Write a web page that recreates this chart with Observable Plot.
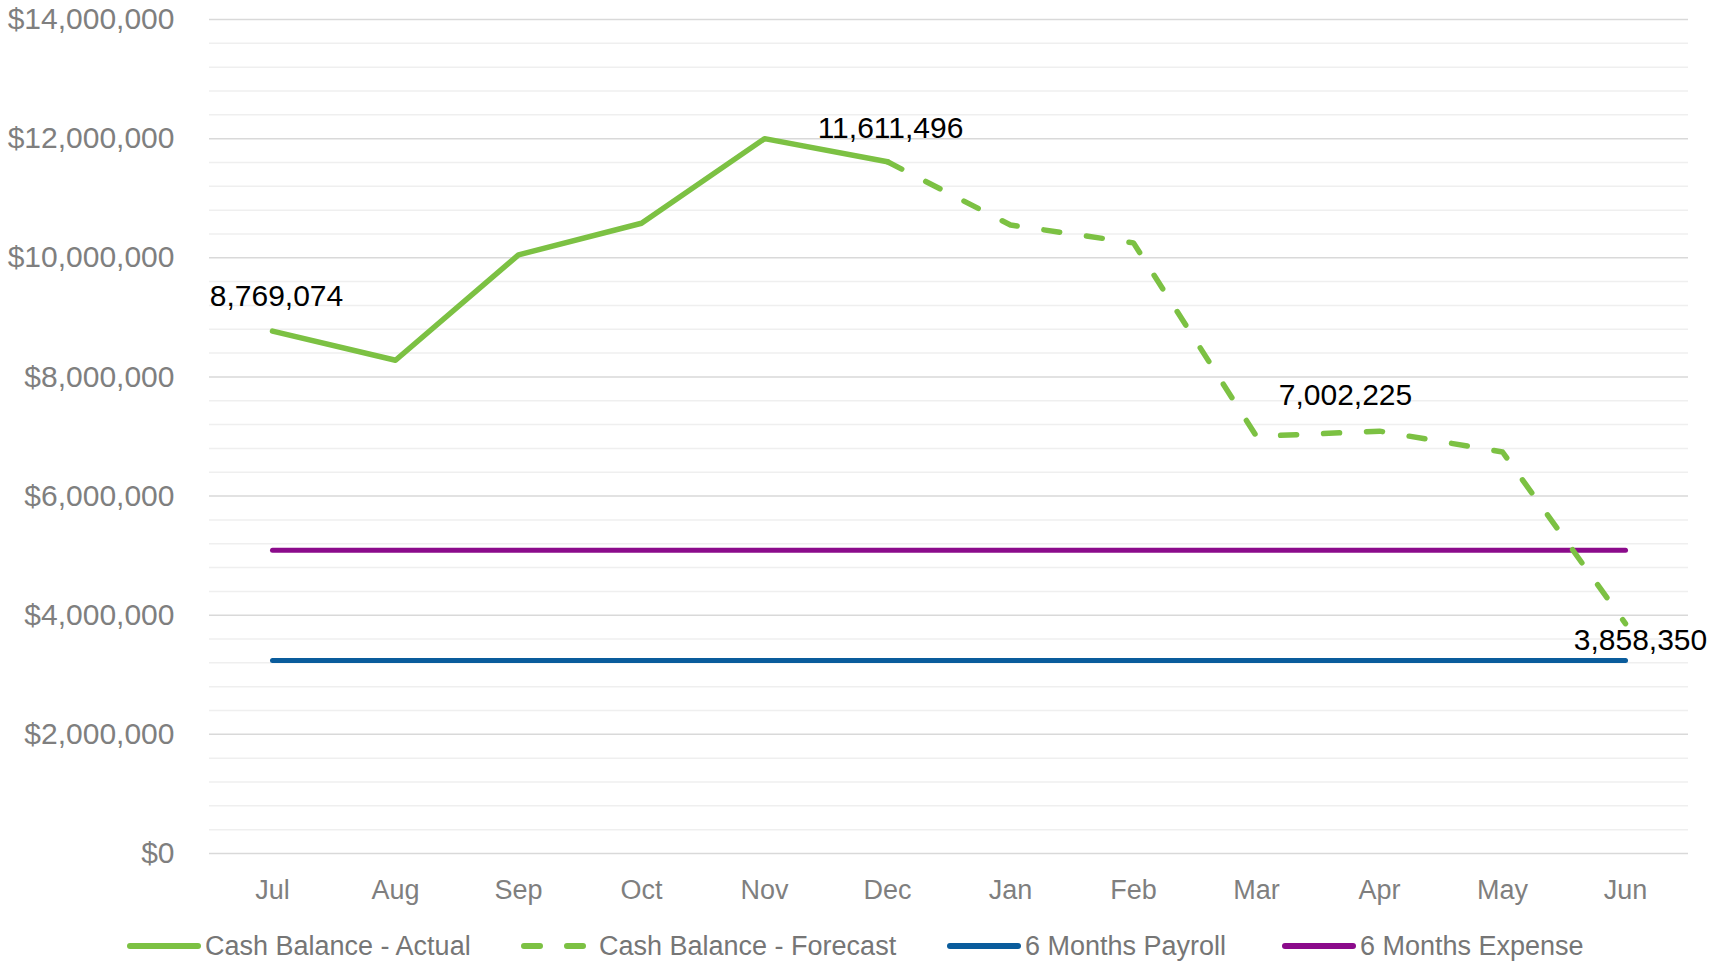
<!DOCTYPE html>
<html><head><meta charset="utf-8">
<script src="https://cdn.jsdelivr.net/npm/d3@7"></script>
<script src="https://cdn.jsdelivr.net/npm/@observablehq/plot@0.6"></script>
<style>
body{margin:0;background:#fff;font-family:"Liberation Sans",Arial,sans-serif;}
#wrap{position:relative;width:1730px;height:961px;overflow:hidden;}
.lg{position:absolute;top:928px;height:36px;display:flex;align-items:center;font-size:27px;color:#767676;white-space:nowrap;}
.lg svg{margin-right:4px;}
</style></head><body>
<div id="wrap"><div id="chart"></div><div id="legend"></div></div>
<script>
// ---- data ----
const months = ["Jul","Aug","Sep","Oct","Nov","Dec","Jan","Feb","Mar","Apr","May","Jun"];
const actualMonths = ["Jul","Aug","Sep","Oct","Nov","Dec"];
const actualValues = [8769074, 8280000, 10050000, 10580000, 12000000, 11611496];
const forecastMonths = ["Dec","Jan","Feb","Mar","Apr","May","Jun"];
const forecastValues = [11611496, 10550000, 10250000, 7002225, 7090000, 6740000, 3858350];
const payrollValue = 3240000;
const expenseValue = 5090000;
const yMajorTicks = [0, 2000000, 4000000, 6000000, 8000000, 10000000, 12000000, 14000000];
const yMinorTicks = [400000,800000,1200000,1600000,2400000,2800000,3200000,3600000,4400000,4800000,5200000,5600000,6400000,6800000,7200000,7600000,8400000,8800000,9200000,9600000,10400000,10800000,11200000,11600000,12400000,12800000,13200000,13600000];
const seriesNames = ["Cash Balance - Actual","Cash Balance - Forecast","6 Months Payroll","6 Months Expense"];
const labelPoints = [
  {m:"Jul", v:8769074},
  {m:"Dec", v:11611496},
  {m:"Mar", v:7002225},
  {m:"Jun", v:3858350}
];

const GREEN = "#7cc143", BLUE = "#0a5c9c", PURPLE = "#8b0b8b";
const actual = actualMonths.map((m,i)=>({m, v:actualValues[i]}));
const forecast = forecastMonths.map((m,i)=>({m, v:forecastValues[i]}));
const payroll = months.map(m=>({m, v:payrollValue}));
const expense = months.map(m=>({m, v:expenseValue}));
const fmt = d3.format(",");
const labelOffsets = [[4,-35],[3,-33],[89,-41],[15,17]];

const chart = Plot.plot({
  width: 1730,
  height: 900,
  marginLeft: 209,
  marginRight: 42,
  marginTop: 19,
  marginBottom: 47,
  style: {fontFamily: '"Liberation Sans", Arial, sans-serif', background: "#fff", overflow: "visible"},
  x: {type: "point", domain: months, padding: 0.5},
  y: {domain: [0, 14000000]},
  marks: [
    Plot.gridY(yMinorTicks, {stroke: "#efefef", strokeOpacity: 1, strokeWidth: 1.5}),
    Plot.gridY(yMajorTicks, {stroke: "#d9d9d9", strokeOpacity: 1, strokeWidth: 1.5}),
    Plot.axisY(yMajorTicks, {tickSize: 0, tickPadding: 35, fontSize: 30, fill: "#7f7f7f", tickFormat: d => "$" + fmt(d), label: null}),
    Plot.axisX({tickSize: 0, tickPadding: 26, fontSize: 27, fill: "#7f7f7f", label: null}),
    Plot.lineY(payroll, {x: "m", y: "v", stroke: BLUE, strokeWidth: 5, strokeLinecap: "round"}),
    Plot.lineY(expense, {x: "m", y: "v", stroke: PURPLE, strokeWidth: 5, strokeLinecap: "round"}),
    Plot.lineY(forecast, {x: "m", y: "v", stroke: GREEN, strokeWidth: 5.5, strokeLinecap: "round", strokeLinejoin: "round", strokeDasharray: "16,27"}),
    Plot.lineY(actual, {x: "m", y: "v", stroke: GREEN, strokeWidth: 5.5, strokeLinecap: "round", strokeLinejoin: "round"}),
    ...labelPoints.map((p,i) => Plot.text([p], {x: "m", y: "v", text: d => fmt(d.v), dx: labelOffsets[i][0], dy: labelOffsets[i][1], fontSize: 30, fill: "#000"}))
  ]
});
document.getElementById("chart").appendChild(chart);

// ---- legend ----
const legendItems = [
  {name: seriesNames[0], color: GREEN, dash: null, left: 127},
  {name: seriesNames[1], color: GREEN, dash: "16,27", left: 521},
  {name: seriesNames[2], color: BLUE, dash: null, left: 947},
  {name: seriesNames[3], color: PURPLE, dash: null, left: 1282}
];
const lg = document.getElementById("legend");
legendItems.forEach(it => {
  const div = document.createElement("div");
  div.className = "lg";
  div.style.left = it.left + "px";
  const sw = `<svg width="74" height="12"><line x1="3" y1="6" x2="71" y2="6" stroke="${it.color}" stroke-width="6" stroke-linecap="round" ${it.dash ? 'stroke-dasharray="16,27"' : ''}/></svg>`;
  div.innerHTML = sw + `<span>${it.name}</span>`;
  lg.appendChild(div);
});
</script>
</body></html>
